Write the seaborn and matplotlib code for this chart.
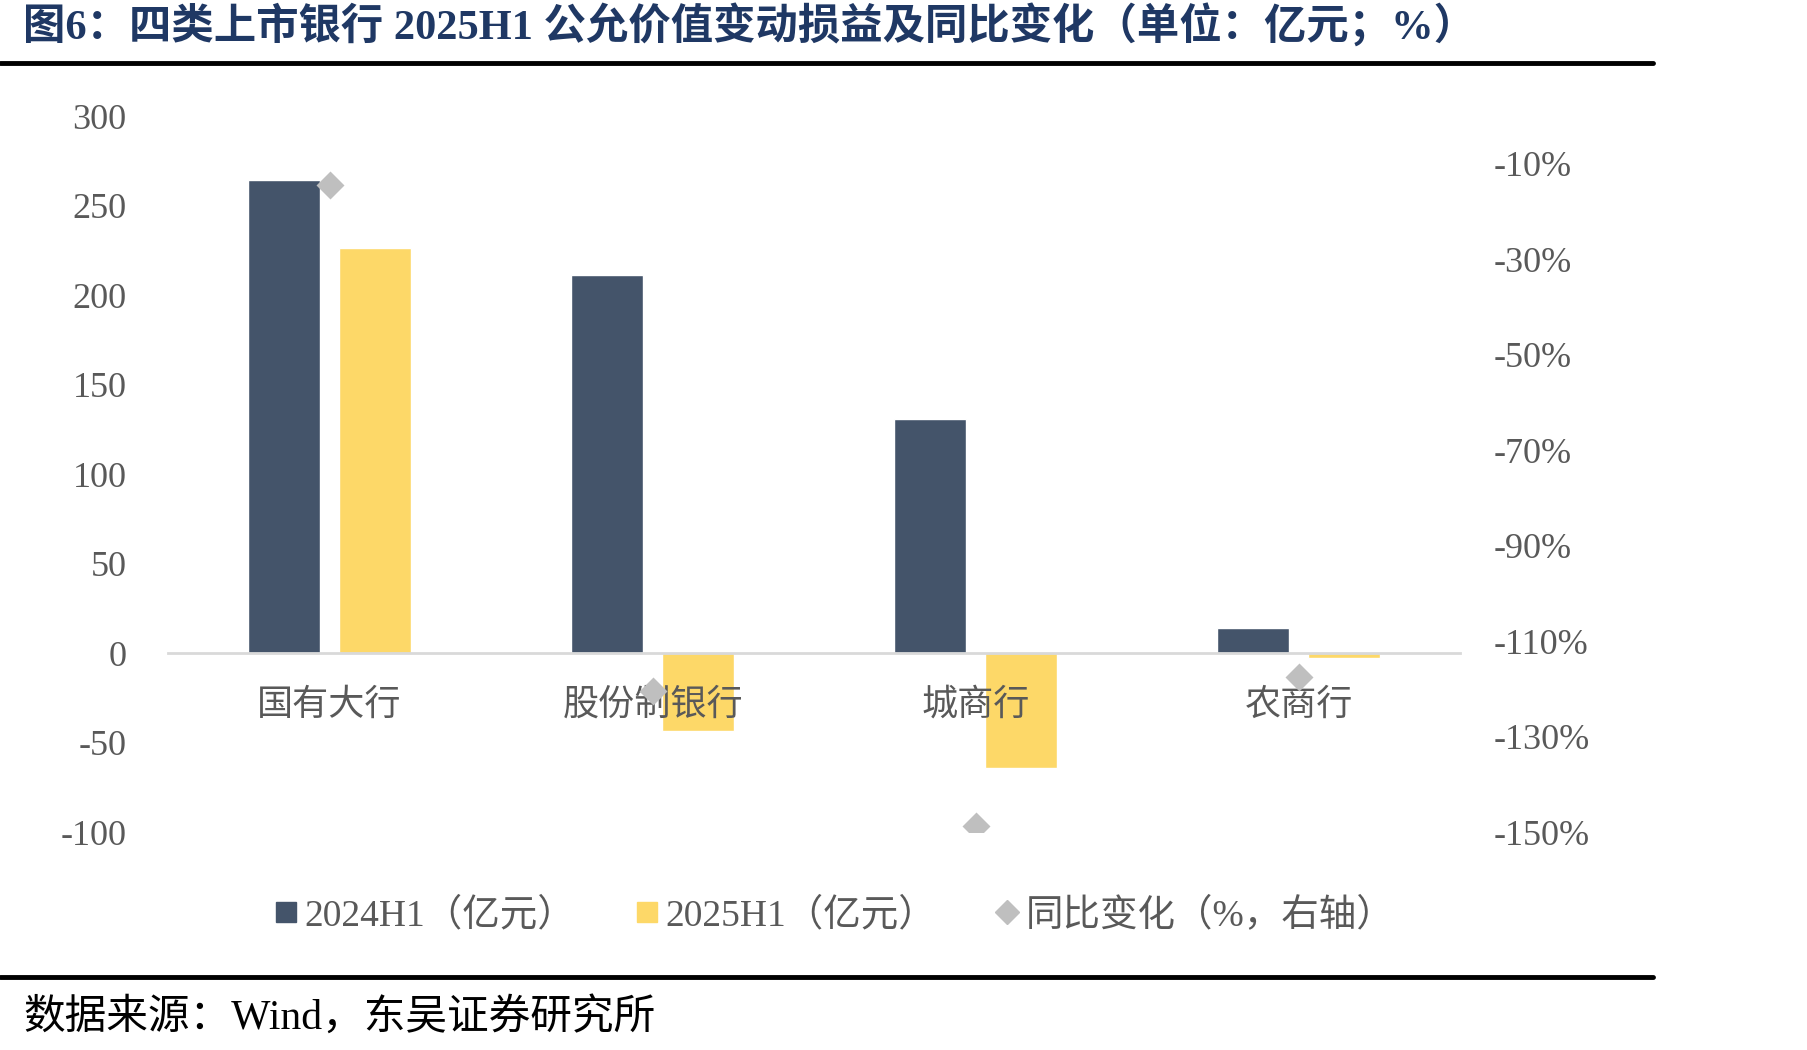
import numpy as np
import pandas as pd
import matplotlib
matplotlib.use("Agg")
from matplotlib import pyplot as plt
from matplotlib.lines import Line2D
import seaborn as sns

# data
categories = ["国有大行", "股份制银行", "城商行", "农商行"]
h1_2024 = [264.5, 211.0, 131.0, 14.0]
h1_2025 = [226.5, -43.5, -64.0, -3.0]
yoy = [-14.4, -120.4, -148.8, -117.6]
series = ["2024H1（亿元）", "2025H1（亿元）"]
left_ticks = [-100, -50, 0, 50, 100, 150, 200, 250, 300]
right_ticks = [-150, -130, -110, -90, -70, -50, -30, -10]

df = pd.DataFrame({
    "cat": categories * 2,
    "series": [series[0]] * 4 + [series[1]] * 4,
    "value": h1_2024 + h1_2025,
})
df_yoy = pd.DataFrame({"cat": categories, "yoy": yoy})

sns.set_theme(style="white")
plt.rcParams['font.family'] = ['Liberation Serif', 'Noto Sans CJK SC']
plt.rcParams['axes.unicode_minus'] = False

dark = "#44546A"
gold = "#FDD868"
grey = "#BFBFBF"
txt = "#595959"

fig = plt.figure(figsize=(18.07, 10.5), dpi=100)
ax = fig.add_axes([0.093, 0.2076, 0.715, 0.6819])

sns.barplot(data=df, x="cat", y="value", hue="series", order=categories,
            palette=[dark, gold], width=0.568, gap=0.215, ax=ax,
            legend=False, saturation=1)
ax.set_ylim(-100, 300)
ax.set_yticks(left_ticks)
ax.set_xlim(-0.5, 3.5)
ax.set_xlabel("")
ax.set_ylabel("")
for s in ["top", "right", "left"]:
    ax.spines[s].set_visible(False)
ax.spines["bottom"].set_position(("data", 0))
ax.spines["bottom"].set_color("#D9D9D9")
ax.spines["bottom"].set_linewidth(2)
ax.xaxis.set_zorder(5)
ax.tick_params(axis="x", length=0, pad=26, labelsize=26, labelcolor=txt)
ax.tick_params(axis="y", length=0, pad=30, labelsize=26, labelcolor=txt)

ax2 = ax.twinx()
sns.pointplot(data=df_yoy, x="cat", y="yoy", order=categories, ax=ax2,
              linestyle="none", markers="D", color=grey, markersize=12)
ax2.set_ylim(-150, 0)
ax2.set_yticks(right_ticks)
ax2.set_yticklabels([f"{t}%" for t in right_ticks])
ax2.set_xlim(-0.5, 3.5)
ax2.set_xlabel("")
ax2.set_ylabel("")
for s in ax2.spines.values():
    s.set_visible(False)
ax2.tick_params(axis="y", length=0, pad=24, labelsize=26, labelcolor=txt)
ax2.tick_params(axis="x", length=0)

handles = [
    Line2D([], [], marker="s", linestyle="none", color=dark, markersize=14),
    Line2D([], [], marker="s", linestyle="none", color=gold, markersize=14),
    Line2D([], [], marker="D", linestyle="none", color=grey, markersize=12),
]
labels = series + ["同比变化（%，右轴）"]
fig.legend(handles, labels, loc="center", bbox_to_anchor=(0.462, 1 - 915 / 1050),
           ncol=3, frameon=False, fontsize=27, labelcolor=txt,
           handlelength=0.6, handletextpad=0.2, columnspacing=1.6)

fig.text(0.013, 1 - 26 / 1050, "图6：四类上市银行 2025H1 公允价值变动损益及同比变化（单位：亿元；%）",
         fontsize=30.5, fontweight="bold", color="#1F3864", va="center", ha="left")
fig.add_artist(Line2D([0, 1653 / 1807], [1 - 63 / 1050] * 2, color="black", lw=3.5))
fig.add_artist(Line2D([0, 1653 / 1807], [1 - 977 / 1050] * 2, color="black", lw=3.5))
fig.text(0.013, 1 - 1018 / 1050, "数据来源：Wind，东吴证券研究所", fontsize=30,
         color="black", va="center", ha="left")

fig.savefig("out.png", dpi=100)
